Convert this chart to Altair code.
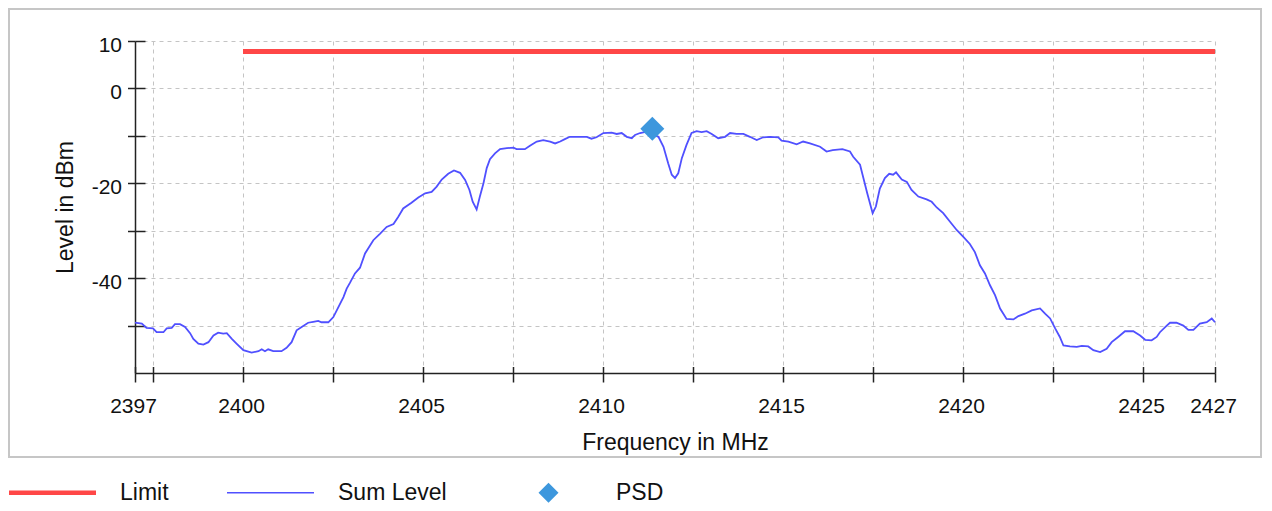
import altair as alt
import pandas as pd

# ---------------- data ----------------
sum_freq = [
    2397.00, 2397.19, 2397.32, 2397.50, 2397.60, 2397.79, 2397.88, 2398.02, 2398.11, 2398.25,
    2398.39, 2398.53, 2398.62, 2398.76, 2398.90, 2399.04, 2399.18, 2399.31, 2399.45, 2399.55,
    2399.69, 2399.82, 2400.01, 2400.24, 2400.43, 2400.52, 2400.61, 2400.70, 2400.84, 2401.07,
    2401.21, 2401.35, 2401.49, 2401.63, 2401.81, 2401.95, 2402.09, 2402.18, 2402.37, 2402.51,
    2402.65, 2402.79, 2402.88, 2402.97, 2403.11, 2403.25, 2403.39, 2403.62, 2403.81, 2403.99,
    2404.18, 2404.31, 2404.45, 2404.68, 2404.87, 2405.06, 2405.24, 2405.38, 2405.52, 2405.70,
    2405.86, 2406.03, 2406.17, 2406.29, 2406.38, 2406.49, 2406.58, 2406.68, 2406.77, 2406.86,
    2407.00, 2407.14, 2407.33, 2407.51, 2407.60, 2407.83, 2407.97, 2408.16, 2408.34, 2408.53,
    2408.67, 2408.81, 2408.94, 2409.08, 2409.36, 2409.55, 2409.68, 2409.82, 2410.01, 2410.24,
    2410.38, 2410.52, 2410.66, 2410.80, 2410.89, 2411.03, 2411.21, 2411.54, 2411.68, 2411.81,
    2411.91, 2412.00, 2412.09, 2412.19, 2412.32, 2412.46, 2412.60, 2412.74, 2412.88, 2413.02,
    2413.20, 2413.39, 2413.53, 2413.71, 2413.90, 2414.08, 2414.27, 2414.45, 2414.64, 2414.87,
    2414.96, 2415.15, 2415.38, 2415.56, 2415.75, 2416.03, 2416.21, 2416.38, 2416.65, 2416.86,
    2416.95, 2417.14, 2417.21, 2417.34, 2417.49, 2417.58, 2417.69, 2417.83, 2417.95, 2418.06,
    2418.14, 2418.30, 2418.44, 2418.57, 2418.76, 2418.99, 2419.13, 2419.27, 2419.45, 2419.64,
    2419.83, 2420.01, 2420.19, 2420.33, 2420.47, 2420.61, 2420.75, 2420.89, 2421.03, 2421.21,
    2421.40, 2421.54, 2421.72, 2421.91, 2422.14, 2422.28, 2422.42, 2422.56, 2422.69, 2422.79,
    2422.97, 2423.16, 2423.30, 2423.48, 2423.62, 2423.81, 2423.99, 2424.13, 2424.31, 2424.50,
    2424.73, 2424.92, 2425.06, 2425.24, 2425.38, 2425.47, 2425.66, 2425.75, 2425.93, 2426.12,
    2426.26, 2426.40, 2426.58, 2426.77, 2426.91, 2427.00,
]
sum_level = [
    -49.4, -49.6, -50.5, -50.6, -51.4, -51.4, -50.6, -50.5, -49.7, -49.7,
    -50.3, -51.6, -52.8, -53.8, -54.0, -53.5, -52.1, -51.5, -51.7, -51.6,
    -52.8, -53.8, -55.2, -55.7, -55.4, -55.0, -55.4, -55.0, -55.4, -55.4,
    -54.7, -53.5, -51.0, -50.3, -49.4, -49.2, -49.0, -49.3, -49.3, -48.2,
    -46.1, -44.0, -42.2, -41.0, -39.0, -37.8, -34.8, -32.0, -30.6, -29.2,
    -28.6, -27.1, -25.3, -24.1, -23.0, -22.1, -21.8, -20.7, -19.2, -18.0,
    -17.3, -17.8, -19.3, -21.4, -23.9, -25.5, -22.8, -20.0, -16.8, -14.9,
    -13.7, -12.8, -12.6, -12.5, -12.8, -12.8, -12.1, -11.2, -10.9, -11.2,
    -11.6, -11.2, -10.7, -10.2, -10.2, -10.2, -10.6, -10.3, -9.4, -9.3,
    -9.6, -9.4, -10.2, -10.5, -9.8, -9.4, -9.1, -10.2, -12.3, -15.8,
    -18.2, -18.9, -17.9, -14.7, -11.9, -9.4, -9.0, -9.2, -9.0, -9.6,
    -10.5, -10.2, -9.4, -9.6, -9.6, -10.2, -10.9, -10.3, -10.2, -10.3,
    -11.0, -11.2, -11.8, -11.2, -11.6, -12.3, -13.3, -13.0, -12.8, -13.3,
    -14.4, -16.1, -18.2, -22.1, -26.3, -24.9, -21.1, -18.9, -18.0, -18.2,
    -17.7, -19.2, -19.7, -21.4, -22.8, -23.4, -23.9, -25.1, -26.3, -28.1,
    -29.9, -31.3, -32.8, -34.5, -37.3, -39.0, -41.5, -43.6, -46.4, -48.6,
    -48.7, -48.0, -47.5, -46.8, -46.4, -47.5, -48.5, -50.6, -52.4, -54.2,
    -54.4, -54.5, -54.3, -54.4, -55.2, -55.6, -54.9, -53.5, -52.4, -51.2,
    -51.2, -52.1, -53.0, -53.1, -52.4, -51.4, -50.0, -49.4, -49.4, -50.0,
    -50.9, -50.9, -49.6, -49.3, -48.5, -49.3,
]
limit_freq = [2400.0, 2427.0]
limit_level = [7.8, 7.8]
psd_freq = [2411.37]
psd_level = [-8.5]

series_names = ["Limit", "Sum Level", "PSD"]
series_colors = ["#ff4747", "#5050ff", "#3d97dd"]
series_shapes = [
    "M-4.35,-0.22L4.35,-0.22L4.35,0.22L-4.35,0.22Z",
    "M-4.35,-0.07L4.35,-0.07L4.35,0.07L-4.35,0.07Z",
    "M0,-1L1,0L0,1L-1,0Z",
]

x_tick_values = [2397, 2397.5, 2400, 2402.5, 2405, 2407.5, 2410, 2412.5,
                 2415, 2417.5, 2420, 2422.5, 2425, 2427]
x_label_values = [2397, 2400, 2405, 2410, 2415, 2420, 2425, 2427]
y_tick_values = [10, 0, -10, -20, -30, -40, -50]
y_label_values = [10, 0, -20, -40]

# ---------------- tables ----------------
limit_df = pd.DataFrame({"freq": limit_freq, "level": limit_level,
                         "series": ["Limit"] * len(limit_freq)})
sum_df = pd.DataFrame({"freq": sum_freq, "level": sum_level,
                       "series": ["Sum Level"] * len(sum_freq)})
psd_df = pd.DataFrame({"freq": psd_freq, "level": psd_level,
                       "series": ["PSD"] * len(psd_freq)})
frame_df = pd.DataFrame({"k": [0]})

FONT = "Liberation Sans, Arial, Helvetica, sans-serif"
AXIS_COLOR = "#222222"
GRID_COLOR = "#c4c4c4"
W, H = 1080, 332

x_scale = alt.Scale(domain=[2397, 2427], nice=False, zero=False)
y_scale = alt.Scale(domain=[-60, 10], nice=False, zero=False)
color_scale = alt.Scale(domain=series_names, range=series_colors)
shape_scale = alt.Scale(domain=series_names, range=series_shapes)


def label_expr(vals):
    return "indexof([" + ",".join(str(v) for v in vals) + "], datum.value) >= 0 ? '' + datum.value : ''"


x_axis_main = alt.Axis(
    values=x_tick_values, labelExpr=label_expr(x_label_values),
    title="Frequency in MHz", titleFont=FONT, titleFontSize=23, titleFontWeight="normal",
    titleColor="#111", titleY=69, titleBaseline="middle",
    labelFont=FONT, labelFontSize=21, labelColor="#111", labelPadding=13,
    labelFlush=False, labelOverlap=False, labelOffset=-2,
    tickSize=9, tickColor=AXIS_COLOR, tickWidth=1.5,
    domainColor=AXIS_COLOR, domainWidth=1.5,
    grid=True, gridColor=GRID_COLOR, gridDash=[4, 4], gridWidth=1,
)
y_axis_main = alt.Axis(
    values=y_tick_values, labelExpr=label_expr(y_label_values),
    title="Level in dBm", titleFont=FONT, titleFontSize=23, titleFontWeight="normal",
    titleColor="#111", titleX=-70, titleY=166, titleBaseline="middle",
    labelFont=FONT, labelFontSize=21, labelColor="#111", labelPadding=6,
    labelOffset=4, labelOverlap=False,
    tickSize=7.5, tickColor=AXIS_COLOR, tickWidth=1.5,
    domainColor=AXIS_COLOR, domainWidth=1.5,
    grid=True, gridColor=GRID_COLOR, gridDash=[4, 4], gridWidth=1,
)
# inner halves of the crossing ticks
x_axis_inner = alt.Axis(orient="top", offset=-H, values=x_tick_values, labels=False,
                        domain=False, grid=False, title=None, tickSize=6.5,
                        tickColor=AXIS_COLOR, tickWidth=1.5)
y_axis_inner = alt.Axis(orient="right", offset=-W, values=y_tick_values, labels=False,
                        domain=False, grid=False, title=None, tickSize=10,
                        tickColor=AXIS_COLOR, tickWidth=1.5)

legend_def = alt.Legend(
    title=None, orient="none", legendX=-126, legendY=440, direction="horizontal",
    symbolSize=400, symbolStrokeWidth=0, symbolOffset=32, symbolOpacity=1,
    symbolFillColor="#000000", symbolStrokeColor="#000000",
    labelOffset=56, columnPadding=58, padding=0,
    labelFont=FONT, labelFontSize=23, labelColor="#111",
)

frame = alt.Chart(frame_df).mark_rect(
    filled=False, stroke="#c6c6c6", strokeWidth=2
).encode(x=alt.value(-126), x2=alt.value(1126), y=alt.value(-32), y2=alt.value(416))

limit = alt.Chart(limit_df).mark_line(strokeWidth=5, strokeCap="butt").encode(
    x=alt.X("freq:Q", scale=x_scale, axis=x_axis_main),
    y=alt.Y("level:Q", scale=y_scale, axis=y_axis_main),
    color=alt.Color("series:N", scale=color_scale, legend=legend_def),
)

sum_line = alt.Chart(sum_df).mark_line(strokeWidth=1.8).encode(
    x=alt.X("freq:Q", scale=x_scale, axis=None),
    y=alt.Y("level:Q", scale=y_scale, axis=None),
    color=alt.Color("series:N", scale=color_scale, legend=legend_def),
)

psd = alt.Chart(psd_df).mark_point(filled=True, size=576, opacity=1, strokeWidth=0).encode(
    x=alt.X("freq:Q", scale=x_scale, axis=x_axis_inner),
    y=alt.Y("level:Q", scale=y_scale, axis=y_axis_inner),
    color=alt.Color("series:N", scale=color_scale, legend=legend_def),
    shape=alt.Shape("series:N", scale=shape_scale, legend=legend_def),
)

chart = (
    alt.layer(frame, limit, sum_line, psd)
    .resolve_axis(x="independent", y="independent")
    .properties(width=W, height=H, padding={"left": 0, "top": 0, "right": 0, "bottom": 0},
                background="white")
    .configure_view(stroke=None)
)

chart.save("out.html", embed_options={"renderer": "svg", "actions": False})
